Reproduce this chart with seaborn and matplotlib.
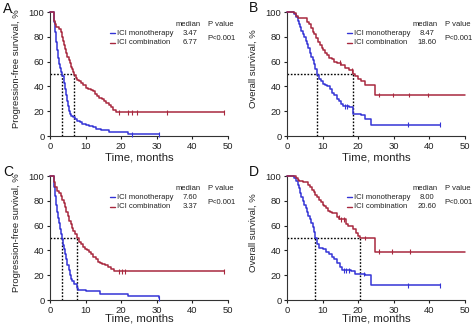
import numpy as np
import pandas as pd
import matplotlib
matplotlib.use("Agg")
import matplotlib.pyplot as plt
import seaborn as sns

sns.set_style("ticks")
plt.rcParams["font.family"] = ["Liberation Sans", "DejaVu Sans"]

BLUE = "#3434d6"
RED = "#a8283e"

# ---------------- Kaplan-Meier step data (time in months, survival in %) ----------------
# Panel A: progression-free survival
a_mono_t = [0, 1.0, 1.3, 1.6, 1.9, 2.2, 2.5, 2.8, 3.1, 3.47, 3.8, 4.1, 4.4, 4.7, 5.0, 5.3, 5.6, 6.0,
            6.5, 7.0, 7.6, 8.3, 9.0, 10.0, 11.0, 12.0, 13.0, 14.2, 16.5, 22.0, 30.5]
a_mono_s = [100, 92, 84, 76, 69, 63, 58, 55, 52, 48, 43, 38, 33, 28, 24, 20, 18, 16,
            15, 14, 12, 11, 10, 9, 8, 7, 6, 5, 3, 1.5, 1.5]
a_mono_c = [23.0, 30.5]
a_comb_t = [0, 1.0, 1.3, 1.8, 2.5, 3.0, 3.4, 3.7, 4.0, 4.3, 4.6, 4.9, 5.2, 5.5, 5.8, 6.1, 6.4, 6.77,
            7.2, 7.7, 8.2, 8.8, 9.4, 10.0, 10.7, 11.4, 12.0, 12.6, 13.2, 13.8, 14.5, 15.2, 15.8,
            16.5, 17.2, 17.8, 18.5, 49.0]
a_comb_s = [100, 93, 90, 88, 86, 84, 80, 77, 73, 70, 67, 64, 61, 59, 56, 54, 52, 49,
            47, 45, 44, 43, 41, 39, 38, 37, 36, 34, 32, 31, 30, 28, 27,
            25, 23, 21, 19, 19]
a_comb_c = [19.5, 22.0, 23.0, 24.5, 33.0, 49.0]
a_med = [3.47, 6.77]

# Panel B: overall survival
b_mono_t = [0, 2.0, 2.5, 3.0, 3.3, 3.6, 4.0, 4.4, 4.8, 5.2, 5.6, 6.0, 6.4, 6.8, 7.2, 7.6, 8.0, 8.47,
            9.0, 9.5, 10.0, 10.7, 11.3, 12.0, 12.7, 13.3, 14.0, 14.6, 15.2, 15.8, 17.5, 18.6, 20.8,
            22.0, 23.5, 43.0]
b_mono_s = [100, 98, 96, 93, 90, 88, 85, 82, 80, 77, 74, 71, 67, 64, 61, 58, 54, 49,
            46, 44, 42, 41, 40, 38, 35, 33, 30, 28, 26, 24, 23, 18, 17,
            14, 9, 9]
b_mono_c = [16.2, 16.8, 34.0, 43.0]
b_comb_t = [0, 2.0, 2.5, 3.0, 4.0, 5.5, 6.2, 6.7, 7.2, 7.7, 8.2, 8.7, 9.2, 9.7, 10.2, 10.7, 11.2,
            11.8, 12.5, 13.3, 14.0, 15.3, 16.2, 17.5, 18.6, 19.2, 20.0, 20.8, 22.0, 24.8, 50.0]
b_comb_s = [100, 99, 97, 95, 95, 92, 90, 87, 84, 82, 79, 76, 73, 71, 69, 67, 65,
            63, 62, 60, 59, 57, 55, 53, 50, 48, 46, 44, 41, 33, 33]
b_comb_c = [15.0, 18.3, 25.8, 29.8, 34.2, 39.5]
b_med = [8.47, 18.60]

# Panel C: progression-free survival
c_mono_t = [0, 1.0, 1.3, 1.6, 1.9, 2.2, 2.5, 2.8, 3.1, 3.37, 3.7, 4.0, 4.3, 4.6, 4.9, 5.2, 5.5, 5.8,
            6.2, 6.8, 7.6, 8.0, 10.0, 14.0, 22.0, 30.5]
c_mono_s = [100, 91, 84, 77, 71, 66, 62, 57, 53, 49, 44, 41, 37, 33, 28, 24, 20, 17,
            15, 13, 10, 8, 7, 5, 3, 1.5]
c_mono_c = [30.5]
c_comb_t = [0, 1.0, 1.4, 2.0, 2.6, 3.0, 3.4, 3.8, 4.2, 4.6, 5.0, 5.4, 5.8, 6.2, 6.6, 7.0, 7.6, 8.1,
            8.6, 9.2, 9.8, 10.4, 11.0, 11.6, 12.2, 12.8, 13.4, 14.0, 14.7, 15.5, 16.3, 17.0, 18.0,
            49.0]
c_comb_s = [100, 95, 91, 88, 86, 84, 81, 78, 75, 71, 68, 64, 61, 58, 56, 53, 50, 47,
            45, 43, 41, 40, 39, 37, 35, 33, 31, 30, 29, 28, 27, 25, 23,
            23]
c_comb_c = [19.5, 20.3, 21.0, 49.0]
c_med = [3.37, 7.60]

# Panel D: overall survival
d_mono_t = [0, 2.0, 2.5, 3.0, 3.3, 3.6, 4.0, 4.4, 4.8, 5.2, 5.6, 6.0, 6.4, 6.8, 7.2, 7.6, 8.0, 8.5,
            9.0, 10.0, 11.0, 11.8, 12.5, 13.2, 14.0, 14.8, 15.5, 18.0, 19.0, 22.0, 23.5, 43.0]
d_mono_s = [100, 98, 96, 93, 90, 86, 83, 80, 77, 74, 71, 68, 65, 62, 59, 55, 50, 45,
            42, 41, 39, 37, 35, 33, 30, 27, 24, 23, 21, 20, 12, 12]
d_mono_c = [16.0, 16.6, 17.3, 21.5, 34.0, 43.0]
d_comb_t = [0, 2.5, 3.0, 3.5, 4.5, 6.0, 6.5, 7.0, 7.5, 8.0, 8.5, 9.0, 9.5, 10.0, 10.5, 11.0, 11.5,
            12.0, 12.7, 14.0, 14.7, 16.5, 17.2, 18.5, 19.3, 20.0, 20.6, 24.8, 50.0]
d_comb_s = [100, 98, 97, 96, 95, 93, 91, 89, 87, 85, 83, 81, 79, 77, 76, 74, 72,
            71, 70, 67, 65, 61, 60, 57, 54, 52, 50, 39, 39]
d_comb_c = [14.5, 15.3, 16.0, 22.0, 25.8, 29.5, 34.5]
d_med = [8.00, 20.60]

panel_letters = ["A", "B", "C", "D"]
y_titles = ["Progression-free survival, %", "Overall survival, %",
            "Progression-free survival, %", "Overall survival, %"]
group_names = ["ICI monotherapy", "ICI combination"]
median_labels = [["3.47", "6.77"], ["8.47", "18.60"], ["7.60", "3.37"], ["8.00", "20.60"]]
p_label = "P<0.001"
x_ticks = [0, 10, 20, 30, 40, 50]
y_ticks = [0, 20, 40, 60, 80, 100]

panels = [
    (a_mono_t, a_mono_s, a_mono_c, a_comb_t, a_comb_s, a_comb_c, a_med),
    (b_mono_t, b_mono_s, b_mono_c, b_comb_t, b_comb_s, b_comb_c, b_med),
    (c_mono_t, c_mono_s, c_mono_c, c_comb_t, c_comb_s, c_comb_c, c_med),
    (d_mono_t, d_mono_s, d_mono_c, d_comb_t, d_comb_s, d_comb_c, d_med),
]

W, H = 474, 326
fig = plt.figure(figsize=(W / 100, H / 100), dpi=100)

# axes boxes in pixels: (left, top, right, bottom)
boxes = [(50, 12, 228, 136), (287, 12, 465, 136), (50, 176, 228, 300), (287, 176, 465, 300)]
letter_pos = [(8, 9), (254, 8), (8, 172), (254, 172)]
# top edge of the x-axis title, in axes fraction
xlabel_y = [-0.137, -0.137, -0.112, -0.112]


def step_value(t, s, x):
    i = np.searchsorted(np.asarray(t), x, side="right") - 1
    return np.asarray(s)[i]


for k, (box, data) in enumerate(zip(boxes, panels)):
    l, t_, r, b = box
    ax = fig.add_axes([l / W, 1 - b / H, (r - l) / W, (b - t_) / H])
    mt, ms, mc, ct, cs, cc, med = data

    df = pd.concat([
        pd.DataFrame({"time": mt, "surv": ms, "group": group_names[0]}),
        pd.DataFrame({"time": ct, "surv": cs, "group": group_names[1]}),
    ])
    sns.lineplot(data=df, x="time", y="surv", hue="group", palette=[BLUE, RED],
                 estimator=None, sort=False, drawstyle="steps-post", lw=1.1,
                 legend=False, ax=ax, clip_on=False, zorder=3)

    cens = pd.concat([
        pd.DataFrame({"time": mc, "surv": [step_value(mt, ms, c) for c in mc], "group": group_names[0]}),
        pd.DataFrame({"time": cc, "surv": [step_value(ct, cs, c) for c in cc], "group": group_names[1]}),
    ])
    sns.scatterplot(data=cens, x="time", y="surv", hue="group", palette=[BLUE, RED],
                    marker="|", s=12, linewidth=0.8, legend=False, ax=ax, clip_on=False, zorder=4)

    # median reference lines
    for m in med:
        ax.plot([m, m], [0, 50], color="black", ls=(0, (1.2, 1.2)), lw=1.0, zorder=2)
    ax.plot([0, max(med)], [50, 50], color="black", ls=(0, (1.2, 1.2)), lw=1.0, zorder=2)

    ax.set_xlim(0, 50)
    ax.set_ylim(0, 100)
    ax.set_xticks(x_ticks)
    ax.set_yticks(y_ticks)
    ax.tick_params(labelsize=6.8, length=2.5, width=0.8, pad=1.5, colors="#222222")
    for sp in ["left", "bottom"]:
        ax.spines[sp].set_linewidth(0.8)
        ax.spines[sp].set_color("#333333")
    sns.despine(ax=ax)
    ax.set_xlabel("Time, months", fontsize=8.2, color="#222222")
    ax.set_ylabel(y_titles[k], fontsize=6.8, color="#222222")
    ax.xaxis.set_label_coords(0.5, xlabel_y[k])
    ax.yaxis.set_label_coords(-0.165, 0.54)

    # legend block with medians and P value
    tr = ax.transAxes
    ax.text(0.775, 0.903, "median", transform=tr, fontsize=5.5, ha="center", va="center", color="#222222")
    ax.text(0.888, 0.903, "P value", transform=tr, fontsize=5.5, ha="left", va="center", color="#222222")
    for j, (yy, col) in enumerate(zip([0.83, 0.75], [BLUE, RED])):
        ax.plot([0.337, 0.365], [yy, yy], transform=tr, color=col, lw=1.0, clip_on=False)
        ax.text(0.376, yy, group_names[j], transform=tr, fontsize=5.5, ha="left", va="center", color="#222222")
        ax.text(0.787, yy, median_labels[k][j], transform=tr, fontsize=5.5, ha="center", va="center",
                color="#222222")
    ax.text(0.883, 0.79, p_label, transform=tr, fontsize=5.5, ha="left", va="center", color="#222222")

    lx, ly = letter_pos[k]
    fig.text(lx / W, 1 - ly / H, panel_letters[k], fontsize=10, ha="center", va="center", color="#111111")

fig.savefig("out.png", dpi=100)
